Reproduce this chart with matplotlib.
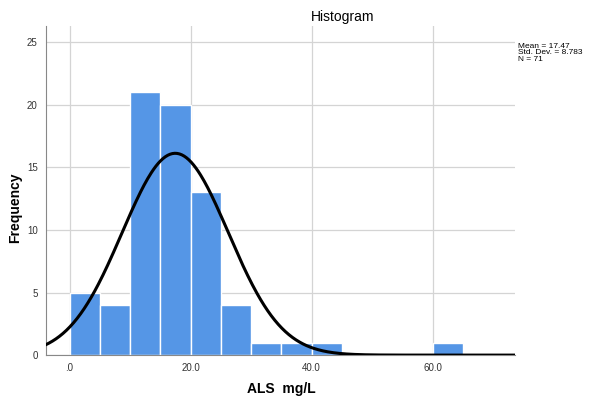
import matplotlib.pyplot as plt
import numpy as np

plt.rcParams['font.family'] = ['Liberation Sans', 'DejaVu Sans']

# histogram bins (ALS mg/L), width 5
bin_edges = [0, 5, 10, 15, 20, 25, 30, 35, 40, 45, 50, 55, 60, 65]
counts = [5, 4, 21, 20, 13, 4, 1, 1, 1, 0, 0, 0, 1]
mean = 17.47
std_dev = 8.783
n_total = 71

fig = plt.figure(figsize=(5.89, 3.99), dpi=100)
ax = fig.add_axes([0.078, 0.110, 0.796, 0.825])

lefts = np.array(bin_edges[:-1])
widths = np.diff(bin_edges)
ax.bar(lefts, counts, width=widths, align='edge', color='#5596e6',
       edgecolor='white', linewidth=1.0, zorder=2)

# fitted normal curve from the reported stats
xs = np.linspace(-4, 73.6, 400)
bw = 5
ys = n_total * bw / (std_dev * np.sqrt(2 * np.pi)) * np.exp(-0.5 * ((xs - mean) / std_dev) ** 2)
ax.plot(xs, ys, color='black', linewidth=2.2, zorder=3)

ax.set_xlim(-3.9, 73.6)
ax.set_ylim(0, 26.3)
ax.set_xticks([0, 20, 40, 60])
ax.set_xticklabels(['.0', '20.0', '40.0', '60.0'])
ax.set_yticks([0, 5, 10, 15, 20, 25])
ax.tick_params(length=0, labelsize=7, colors='#333333', pad=6)
ax.grid(True, color='#d4d4d4', linewidth=0.9, zorder=0)
ax.set_axisbelow(True)
for s in ['top', 'right']:
    ax.spines[s].set_visible(False)
for s in ['left', 'bottom']:
    ax.spines[s].set_color('#888888')

fig.text(0.477, 0.025, 'ALS  mg/L', fontsize=10, fontweight='bold', ha='center', va='center')
fig.text(0.026, 0.48, 'Frequency', fontsize=10, fontweight='bold', ha='center', va='center',
         rotation=90)
fig.text(0.527, 0.958, 'Histogram', fontsize=10, ha='left', va='center')
fig.text(0.880, 0.893, f'Mean = {mean}\nStd. Dev. = {std_dev:.3f}\nN = {n_total}',
         fontsize=6, ha='left', va='top', linespacing=0.95)

fig.savefig('out.png', dpi=100)
